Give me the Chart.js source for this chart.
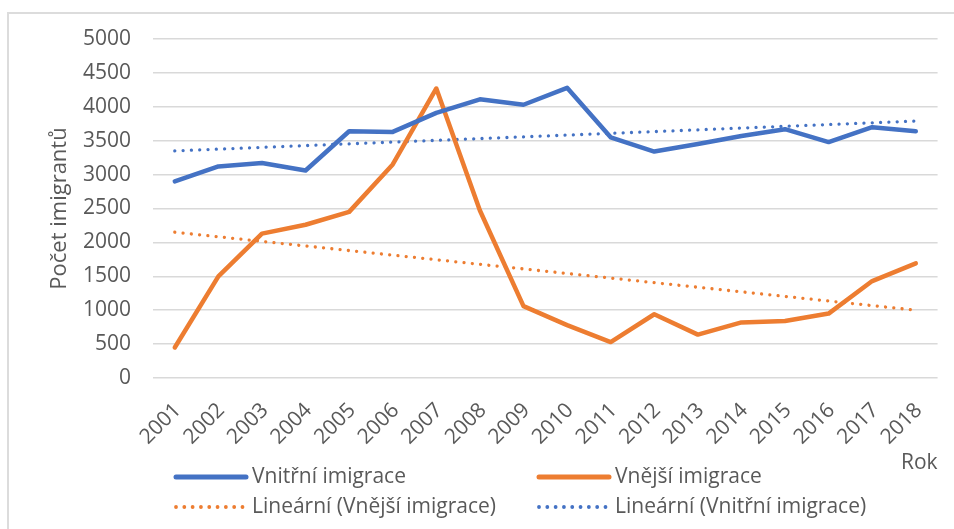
<!DOCTYPE html>
<html>
<head>
<meta charset="utf-8">
<script src="https://cdn.jsdelivr.net/npm/chart.js@4"></script>
<style>
  html, body { margin: 0; padding: 0; background: #fff; }
  #wrap { position: relative; width: 954px; height: 529px; overflow: hidden; }
  #frame { position: absolute; left: 7px; top: 12px; width: 1000px; height: 600px;
           border-left: 2px solid #dcdcdc; border-top: 2px solid #dcdcdc; }
  canvas { position: absolute; left: 0; top: 0; }
</style>
</head>
<body>
<div id="wrap">
  <div id="frame"></div>
  <canvas id="chart" width="954" height="529"></canvas>
</div>
<script>
const years = ['2001', '2002', '2003', '2004', '2005', '2006', '2007', '2008', '2009',
  '2010', '2011', '2012', '2013', '2014', '2015', '2016', '2017', '2018'];
const vnitrni = [2900, 3120, 3170, 3060, 3640, 3630, 3910, 4110, 4030,
  4280, 3550, 3340, 3450, 3570, 3670, 3480, 3700, 3640];
const vnejsi = [450, 1500, 2130, 2260, 2450, 3150, 4270, 2470, 1060,
  780, 530, 940, 640, 820, 840, 950, 1430, 1690];
// trend line end points
const trendVnejsi = [{ x: '2001', y: 2150 }, { x: '2018', y: 1000 }];
const trendVnitrni = [{ x: '2001', y: 3350 }, { x: '2018', y: 3790 }];

const BLUE = '#4472C4';
const ORANGE = '#ED7D31';
const TEXT = '#595959';
const FONT = "'Open Sans', sans-serif";

// Excel-like legend: 2 columns x 2 rows under the axis
const gridLegend = {
  id: 'gridLegend',
  afterDraw(chart) {
    const ctx = chart.ctx;
    const cols = [175, 538];
    const rows = [477, 507];
    ctx.save();
    ctx.font = '21px ' + FONT;
    ctx.fillStyle = TEXT;
    ctx.textBaseline = 'middle';
    chart.data.datasets.forEach((ds, i) => {
      const x = cols[i % 2];
      const y = rows[Math.floor(i / 2)];
      ctx.strokeStyle = ds.borderColor;
      ctx.lineWidth = ds.borderWidth + 0.5;
      ctx.lineCap = 'round';
      ctx.setLineDash(ds.borderDash || []);
      ctx.beginPath();
      ctx.moveTo(x + 1, y);
      ctx.lineTo(x + 71, y);
      ctx.stroke();
      ctx.setLineDash([]);
      ctx.fillText(ds.label, x + 77, y);
    });
    ctx.restore();
  }
};

new Chart(document.getElementById('chart'), {
  type: 'line',
  data: {
    labels: years,
    datasets: [
      {
        label: 'Vnitřní imigrace',
        data: vnitrni,
        borderColor: BLUE,
        backgroundColor: BLUE,
        borderWidth: 4.5,
        borderCapStyle: 'round',
        borderJoinStyle: 'round',
        pointRadius: 0,
        tension: 0
      },
      {
        label: 'Vnější imigrace',
        data: vnejsi,
        borderColor: ORANGE,
        backgroundColor: ORANGE,
        borderWidth: 4.5,
        borderCapStyle: 'round',
        borderJoinStyle: 'round',
        pointRadius: 0,
        tension: 0
      },
      {
        label: 'Lineární (Vnější imigrace)',
        data: trendVnejsi,
        borderColor: ORANGE,
        borderWidth: 3.3,
        borderDash: [0.01, 8.3],
        borderCapStyle: 'round',
        pointRadius: 0,
        tension: 0
      },
      {
        label: 'Lineární (Vnitřní imigrace)',
        data: trendVnitrni,
        borderColor: BLUE,
        borderWidth: 3.3,
        borderDash: [0.01, 8.3],
        borderCapStyle: 'round',
        pointRadius: 0,
        tension: 0
      }
    ]
  },
  options: {
    responsive: false,
    animation: false,
    layout: { padding: { left: 0, top: 39, right: 14, bottom: 0 } },
    plugins: {
      legend: { display: false },
      tooltip: { enabled: false }
    },
    scales: {
      x: {
        type: 'category',
        offset: true,
        grid: { display: false, drawTicks: false },
        border: { display: false },
        ticks: {
          color: TEXT,
          font: { family: FONT, size: 21 },
          minRotation: 45,
          maxRotation: 45,
          autoSkip: false,
          padding: 20,
          labelOffset: 3
        },
        title: {
          display: true,
          text: 'Rok',
          align: 'end',
          color: TEXT,
          font: { family: FONT, size: 21 },
          padding: { top: 0, bottom: 53 }
        },
        afterFit(scale) { scale.height = 151; }
      },
      y: {
        min: 0,
        max: 5000,
        ticks: {
          stepSize: 500,
          color: TEXT,
          font: { family: FONT, size: 21 },
          padding: 22,
          callback: v => String(v)
        },
        grid: { color: '#D9D9D9', lineWidth: 1.5, drawTicks: false },
        border: { display: false },
        title: {
          display: true,
          text: 'Počet imigrantů',
          color: TEXT,
          font: { family: FONT, size: 22 },
          padding: { top: 47, bottom: 0 }
        },
        afterFit(scale) { scale.width = 153; }
      }
    }
  },
  plugins: [gridLegend]
});
</script>
</body>
</html>
